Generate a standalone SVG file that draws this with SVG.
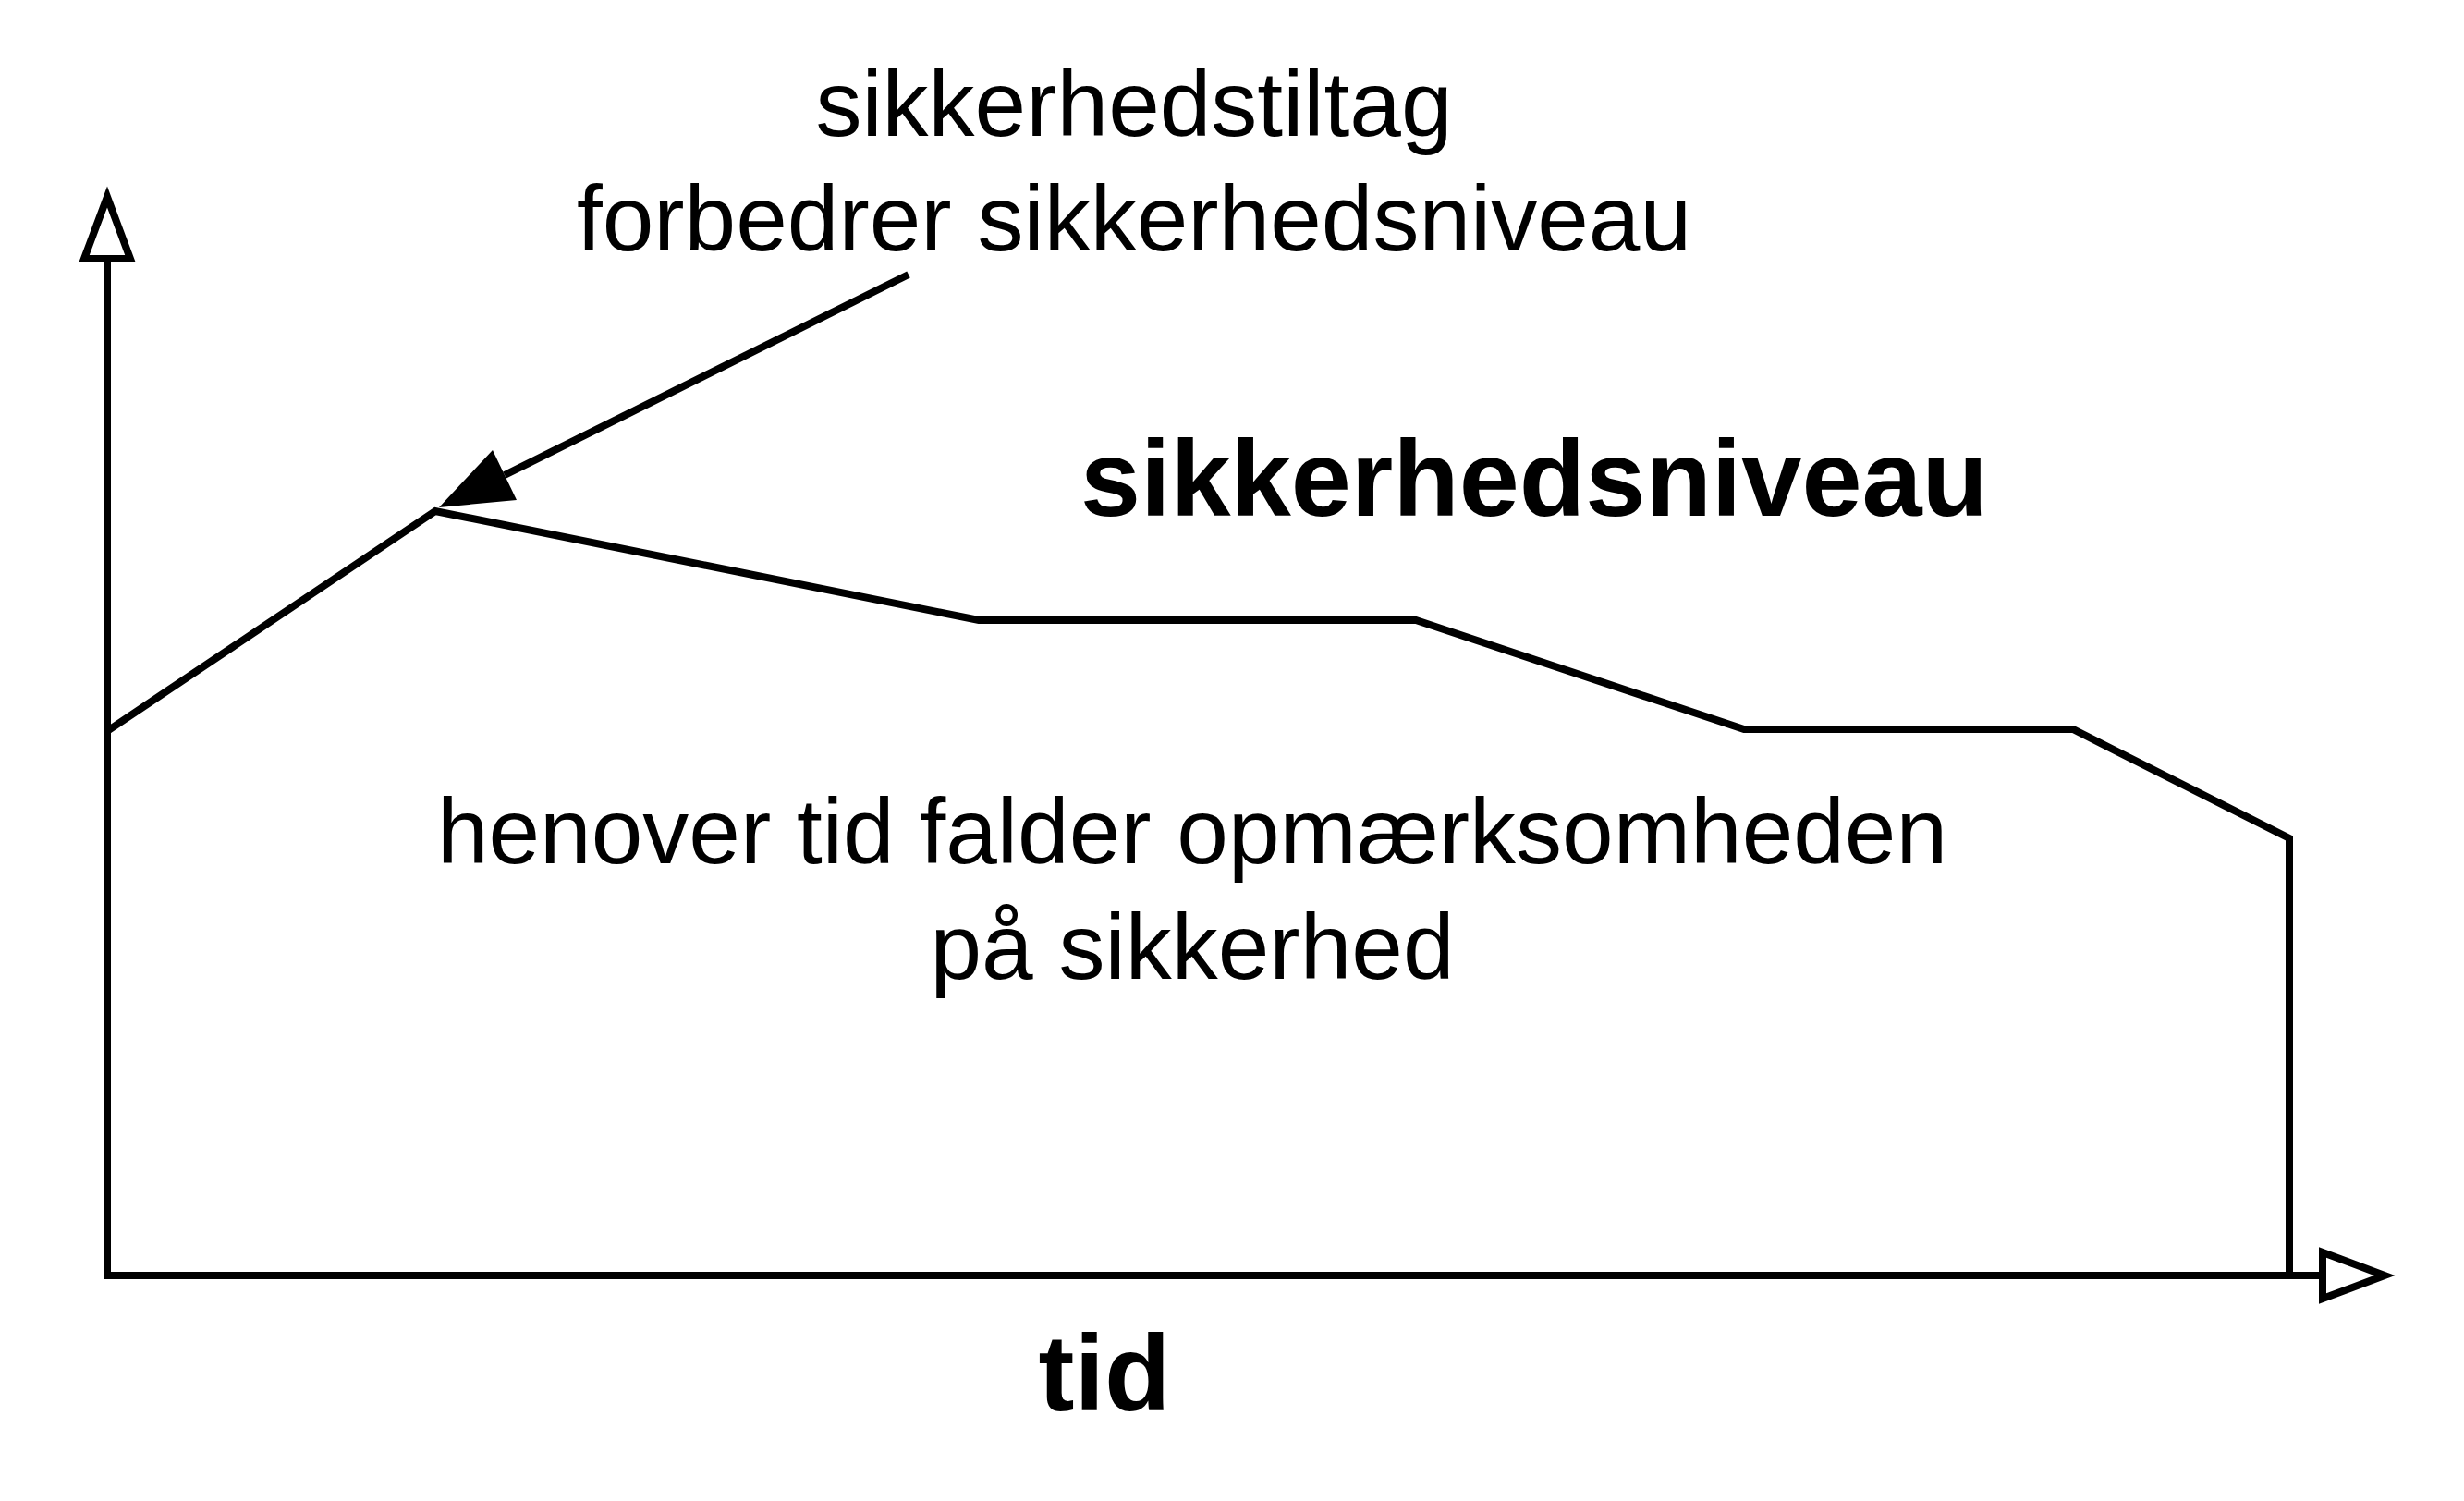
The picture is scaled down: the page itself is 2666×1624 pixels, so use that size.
<svg xmlns="http://www.w3.org/2000/svg" width="2666" height="1624" viewBox="0 0 2666 1624">
<style>
.ln{fill:none;stroke:#000;stroke-width:8;stroke-linejoin:miter;stroke-miterlimit:10}
.open{fill:#fff;stroke:#000;stroke-width:8;stroke-linejoin:miter}
.t{font-family:"Liberation Sans",Arial,Helvetica,sans-serif;font-size:100px;fill:#000}
.b{font-family:"Liberation Sans",Arial,Helvetica,sans-serif;font-size:117px;font-weight:bold;fill:#000}
</style>
<rect x="0" y="0" width="2666" height="1624" fill="#fff"/>
<g id="connectors">
<polyline id="axes" class="ln" points="116,280 116,1380 2513,1380"/>
<polygon id="y-arrow" class="open" points="116,213 91,280 141,280"/>
<polygon id="x-arrow" class="open" points="2513,1355 2513,1405 2580,1380"/>
<polyline id="level" class="ln" points="116,791 471,553 1059,671 1532,671 1887,789 2243,789 2477,907 2477,1380"/>
<line id="pointer" x1="983" y1="297" x2="546" y2="514" stroke="#000" stroke-width="8"/>
<polygon id="pointer-head" points="475,549 533,487 559,541" fill="#000"/>
</g>
<g id="label-measure">
<text class="t" x="1227" y="147" text-anchor="middle">sikkerhedstiltag</text>
<text class="t" x="1227" y="271" text-anchor="middle">forbedrer sikkerhedsniveau</text>
</g>
<g id="label-level">
<text class="b" x="1169" y="558">sikkerhedsniveau</text>
</g>
<g id="label-decline">
<text class="t" x="1290" y="934" text-anchor="middle">henover tid falder opmærksomheden</text>
<text class="t" x="1290" y="1059" text-anchor="middle">på sikkerhed</text>
</g>
<g id="label-time">
<text class="b" x="1195" y="1526" text-anchor="middle">tid</text>
</g>
</svg>
